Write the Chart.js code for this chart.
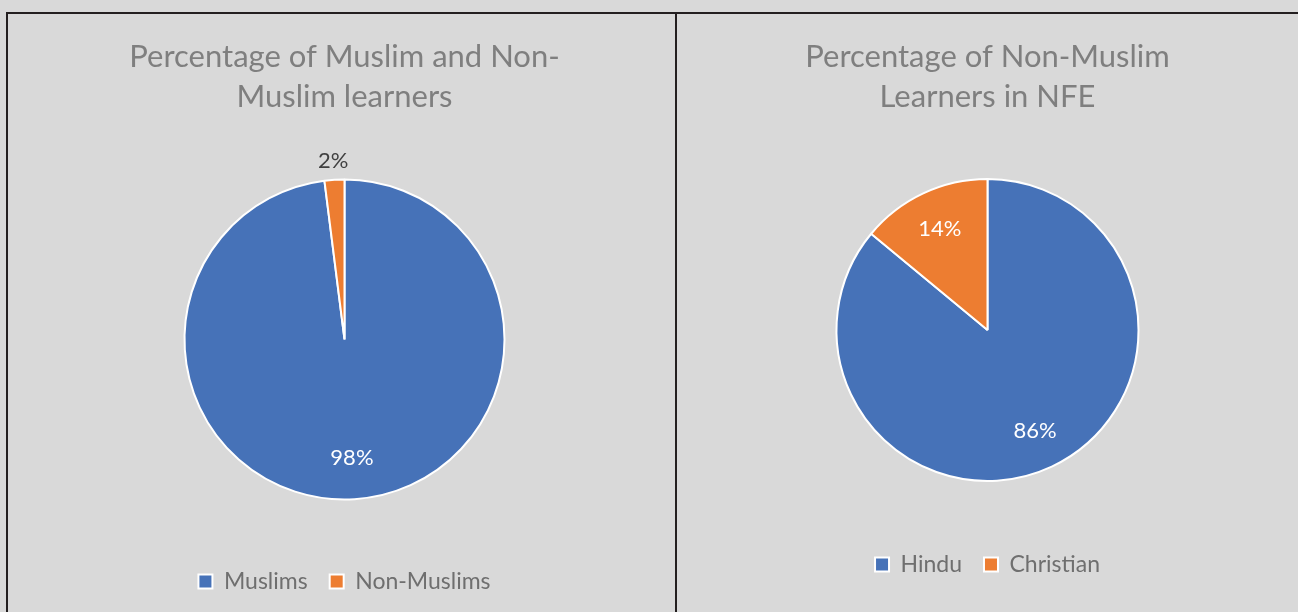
<!DOCTYPE html>
<html>
<head>
<meta charset="utf-8">
<script src="https://cdn.jsdelivr.net/npm/chart.js@4.4.2/dist/chart.umd.min.js"></script>
<style>
  html, body { margin: 0; padding: 0; background: #d9d9d9; width: 1298px; height: 612px; overflow: hidden; }
  .frame { position: absolute; left: 6px; top: 12px; width: 1292px; height: 600px; border-top: 2px solid #231f20; border-left: 2px solid #231f20; box-sizing: border-box; }
  .divider { position: absolute; left: 675px; top: 12px; width: 2px; height: 600px; background: #231f20; }
  .panel { position: absolute; top: 14px; height: 598px; }
  #left { left: 14px; width: 661px; }
  #right { left: 677px; width: 621px; }
</style>
</head>
<body>
<div class="frame"></div>
<div class="divider"></div>
<div class="panel" id="left"><canvas id="religionChart"></canvas></div>
<div class="panel" id="right"><canvas id="nonMuslimChart"></canvas></div>
<script>
const religionLabels = ['Muslims', 'Non-Muslims'];
const religionValues = [98, 2];
const religionTitle = ['Percentage of Muslim and Non-', 'Muslim learners'];

const nonMuslimLabels = ['Hindu', 'Christian'];
const nonMuslimValues = [86, 14];
const nonMuslimTitle = ['Percentage of Non-Muslim', 'Learners in NFE'];

const sliceColors = ['#4672b8', '#ed7d31'];
const fontFamily = 'Lato, "Noto Sans", sans-serif';

// percent labels: inside in white, tiny slices outside in dark grey
const sliceLabels = {
  id: 'sliceLabels',
  afterDatasetsDraw(chart, args, opts) {
    const ctx = chart.ctx;
    const meta = chart.getDatasetMeta(0);
    const data = chart.data.datasets[0].data;
    const total = data.reduce((a, b) => a + b, 0);
    ctx.save();
    ctx.font = opts.font;
    ctx.textAlign = 'center';
    ctx.textBaseline = 'middle';
    meta.data.forEach((arc, i) => {
      const share = data[i] / total;
      const mid = (arc.startAngle + arc.endAngle) / 2;
      const inside = share >= 0.05;
      const r = arc.outerRadius * (inside ? opts.inner : opts.outer);
      ctx.fillStyle = inside ? '#ffffff' : '#404040';
      ctx.fillText(Math.round(share * 100) + '%', arc.x + Math.cos(mid) * r, arc.y + Math.sin(mid) * r);
    });
    ctx.restore();
  }
};

function makePie(id, labels, values, title, radius, titleBottom, bottomPad) {
  return new Chart(document.getElementById(id), {
    type: 'pie',
    data: {
      labels: labels,
      datasets: [{
        data: values,
        backgroundColor: sliceColors,
        borderColor: '#ffffff',
        borderWidth: 2,
        radius: radius
      }]
    },
    options: {
      responsive: true,
      maintainAspectRatio: false,
      animation: false,
      layout: {
        padding: { bottom: bottomPad }
      },
      plugins: {
        tooltip: { enabled: false },
        title: {
          display: true,
          text: title,
          color: '#7f7f7f',
          font: { family: fontFamily, size: 31, weight: 'normal', lineHeight: 1.29 },
          padding: { top: 23, bottom: titleBottom }
        },
        legend: {
          position: 'bottom',
          labels: {
            color: '#6f6f6f',
            boxWidth: 14,
            boxHeight: 14,
            padding: 22,
            font: { family: fontFamily, size: 23 }
          }
        },
        sliceLabels: {
          font: '22px ' + fontFamily,
          inner: 0.74,
          outer: 1.12
        }
      }
    },
    plugins: [sliceLabels]
  });
}

makePie('religionChart', religionLabels, religionValues, religionTitle, 160, 14, 9);
makePie('nonMuslimChart', nonMuslimLabels, nonMuslimValues, nonMuslimTitle, 151, 12, 26);
</script>
</body>
</html>
